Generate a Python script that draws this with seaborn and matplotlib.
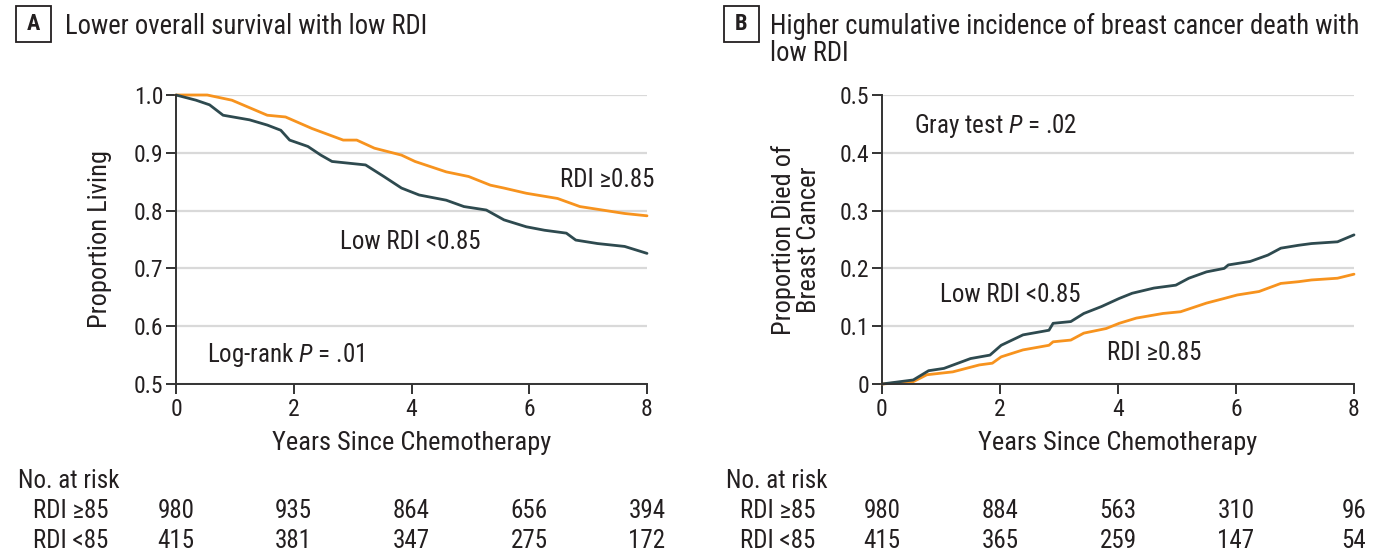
import matplotlib
matplotlib.use("Agg")
import matplotlib.pyplot as plt
import seaborn as sns
import pandas as pd
from matplotlib.patches import Rectangle
from matplotlib import font_manager as fm

sns.set_theme(style="white")
_avail = {f.name for f in fm.fontManager.ttflist}
_cands = ["Roboto Condensed", "Liberation Sans Narrow", "Lato"]
MAIN = next((c for c in _cands if c in _avail), "DejaVu Sans")
FONT = [MAIN, "DejaVu Sans"]
plt.rcParams["font.family"] = FONT
plt.rcParams["mathtext.fontset"] = "custom"
plt.rcParams["mathtext.it"] = MAIN + ":italic"
plt.rcParams["mathtext.rm"] = MAIN

TXT = "#231F20"
ORANGE = "#F7931E"
DARK = "#2E4A4F"
GRID = "#D9D9D9"

# ---------------- data ----------------
groups = ["RDI ≥0.85", "Low RDI <0.85"]

os_hi_t = [0, 0.53, 0.95, 1.55, 1.86, 2.31, 2.84, 3.07, 3.37, 3.83, 4.06, 4.59, 4.97, 5.34, 5.57, 5.95, 6.48, 6.86, 7.24, 7.62, 8.0]
os_hi_v = [1.0, 1.0, 0.991, 0.965, 0.962, 0.942, 0.922, 0.922, 0.908, 0.896, 0.885, 0.867, 0.859, 0.844, 0.839, 0.830, 0.821, 0.807, 0.801, 0.795, 0.791]

os_lo_t = [0, 0.34, 0.57, 0.80, 1.25, 1.55, 1.78, 1.93, 2.24, 2.46, 2.65, 3.22, 3.53, 3.83, 4.13, 4.59, 4.89, 5.27, 5.57, 5.95, 6.26, 6.63, 6.79, 7.16, 7.62, 8.0]
os_lo_v = [1.0, 0.991, 0.983, 0.965, 0.957, 0.948, 0.939, 0.922, 0.911, 0.896, 0.885, 0.879, 0.859, 0.839, 0.827, 0.818, 0.807, 0.801, 0.784, 0.772, 0.766, 0.761, 0.749, 0.743, 0.738, 0.726]

ci_lo_t = [0, 0.53, 0.79, 1.05, 1.50, 1.83, 2.02, 2.39, 2.83, 2.90, 3.20, 3.42, 3.72, 4.02, 4.24, 4.61, 4.98, 5.20, 5.50, 5.80, 5.87, 6.24, 6.54, 6.76, 7.06, 7.28, 7.72, 8.0]
ci_lo_v = [0, 0.007, 0.023, 0.027, 0.044, 0.050, 0.067, 0.085, 0.093, 0.105, 0.108, 0.122, 0.134, 0.148, 0.157, 0.166, 0.171, 0.183, 0.194, 0.200, 0.206, 0.212, 0.223, 0.235, 0.240, 0.243, 0.246, 0.258]

ci_hi_t = [0, 0.53, 0.76, 1.20, 1.65, 1.87, 2.02, 2.39, 2.83, 2.90, 3.20, 3.42, 3.80, 4.02, 4.31, 4.76, 5.06, 5.50, 5.80, 6.02, 6.39, 6.76, 7.06, 7.28, 7.72, 8.0]
ci_hi_v = [0, 0.004, 0.016, 0.021, 0.033, 0.036, 0.047, 0.059, 0.067, 0.073, 0.076, 0.088, 0.096, 0.105, 0.114, 0.122, 0.125, 0.140, 0.148, 0.154, 0.160, 0.174, 0.177, 0.180, 0.183, 0.190]

risk_years = [0, 2, 4, 6, 8]
risk_labels = ["RDI ≥85", "RDI <85"]
risk_a_hi = [980, 935, 864, 656, 394]
risk_a_lo = [415, 381, 347, 275, 172]
risk_b_hi = [980, 884, 563, 310, 96]
risk_b_lo = [415, 365, 259, 147, 54]

df_a = pd.concat([
    pd.DataFrame({"t": os_hi_t, "v": os_hi_v, "g": groups[0]}),
    pd.DataFrame({"t": os_lo_t, "v": os_lo_v, "g": groups[1]}),
])
df_b = pd.concat([
    pd.DataFrame({"t": ci_hi_t, "v": ci_hi_v, "g": groups[0]}),
    pd.DataFrame({"t": ci_lo_t, "v": ci_lo_v, "g": groups[1]}),
])
pal = {groups[0]: ORANGE, groups[1]: DARK}

fig = plt.figure(figsize=(13.85, 5.53), dpi=100)
W, H = 1385, 553


def px(x, y):
    return x / W, 1 - y / H


axA = fig.add_axes([176 / W, 1 - 384 / H, (647 - 176) / W, (384 - 95) / H])
axB = fig.add_axes([882 / W, 1 - 384 / H, (1354 - 882) / W, (384 - 95) / H])

for ax, df, ylim, yt, ylab, ylx in [
    (axA, df_a, (0.5, 1.0), [0.5, 0.6, 0.7, 0.8, 0.9, 1.0], "Proportion Living", 100),
    (axB, df_b, (0.0, 0.5), [0, 0.1, 0.2, 0.3, 0.4, 0.5], "Proportion Died of\nBreast Cancer", 796),
]:
    sns.lineplot(data=df, x="t", y="v", hue="g", palette=pal, ax=ax, legend=False,
                 linewidth=2.0, estimator=None, sort=False)
    ax.set_xlim(0, 8)
    ax.set_ylim(*ylim)
    ax.set_xticks(risk_years)
    ax.set_yticks(yt)
    if ylim[0] == 0:
        ax.set_yticklabels(["0", "0.1", "0.2", "0.3", "0.4", "0.5"])
    ax.yaxis.grid(True, color=GRID, linewidth=1.6)
    ax.xaxis.grid(False)
    ax.set_axisbelow(True)
    for s in ["top", "right"]:
        ax.spines[s].set_visible(False)
    for s in ["left", "bottom"]:
        ax.spines[s].set_color("#333333")
        ax.spines[s].set_linewidth(1.4)
    ax.tick_params(axis="both", which="major", length=7, width=1.4, color="#333333",
                   labelsize=17, labelcolor=TXT, pad=2, left=True, bottom=True)
    ax.tick_params(axis="x", pad=3)
    ax.set_xlabel("Years Since Chemotherapy", fontsize=19, color=TXT, va="center")
    ax.xaxis.set_label_coords(0.5, (384 - 443) / 289)
    ax.set_ylabel(ylab, fontsize=19, color=TXT, linespacing=1.05, va="center")
    x0 = 176 if ax is axA else 882
    ax.yaxis.set_label_coords((ylx - x0) / 471, 0.5)
    for ln in ax.lines:
        ln.set_clip_on(False)

# panel titles
for lx, letter, tx, lines in [(16, "A", 65, ["Lower overall survival with low RDI"]),
                              (724, "B", 770, ["Higher cumulative incidence of breast cancer death with", "low RDI"])]:
    fig.patches.append(Rectangle(px(lx, 42), 35 / W, 36 / H, transform=fig.transFigure,
                                 fill=False, edgecolor=TXT, linewidth=1.3))
    fig.text(*px(lx + 17.5, 24.5), letter, ha="center", va="center", fontsize=16,
             fontweight="bold", color=TXT)
    for i, line in enumerate(lines):
        fig.text(*px(tx, 34 + 27 * i), line, ha="left", va="baseline", fontsize=19.2, color=TXT)

# annotations
fs = 18
fig.text(*px(560, 180), "RDI ≥0.85", ha="left", va="center", fontsize=fs, color=TXT)
fig.text(*px(340, 242), "Low RDI <0.85", ha="left", va="center", fontsize=fs, color=TXT)
fig.text(*px(207, 355), "Log-rank $\\it{P}$ = .01", ha="left", va="center", fontsize=fs, color=TXT)
fig.text(*px(914, 126), "Gray test $\\it{P}$ = .02", ha="left", va="center", fontsize=fs, color=TXT)
fig.text(*px(940, 295), "Low RDI <0.85", ha="left", va="center", fontsize=fs, color=TXT)
fig.text(*px(1107, 353), "RDI ≥0.85", ha="left", va="center", fontsize=fs, color=TXT)

# risk tables
for ax, x0, lab_x, hi, lo in [(axA, 18, 33, risk_a_hi, risk_a_lo), (axB, 726, 740, risk_b_hi, risk_b_lo)]:
    fig.text(*px(x0, 481), "No. at risk", ha="left", va="center", fontsize=fs, color=TXT)
    fig.text(*px(lab_x, 511), risk_labels[0], ha="left", va="center", fontsize=fs, color=TXT)
    fig.text(*px(lab_x, 541), risk_labels[1], ha="left", va="center", fontsize=fs, color=TXT)
    for yr, a, b in zip(risk_years, hi, lo):
        xf = fig.transFigure.inverted().transform(ax.transData.transform((yr, 0)))[0]
        fig.text(xf, 1 - 511 / H, str(a), ha="center", va="center", fontsize=fs, color=TXT)
        fig.text(xf, 1 - 541 / H, str(b), ha="center", va="center", fontsize=fs, color=TXT)

fig.savefig("out.png", dpi=100, facecolor="white")
